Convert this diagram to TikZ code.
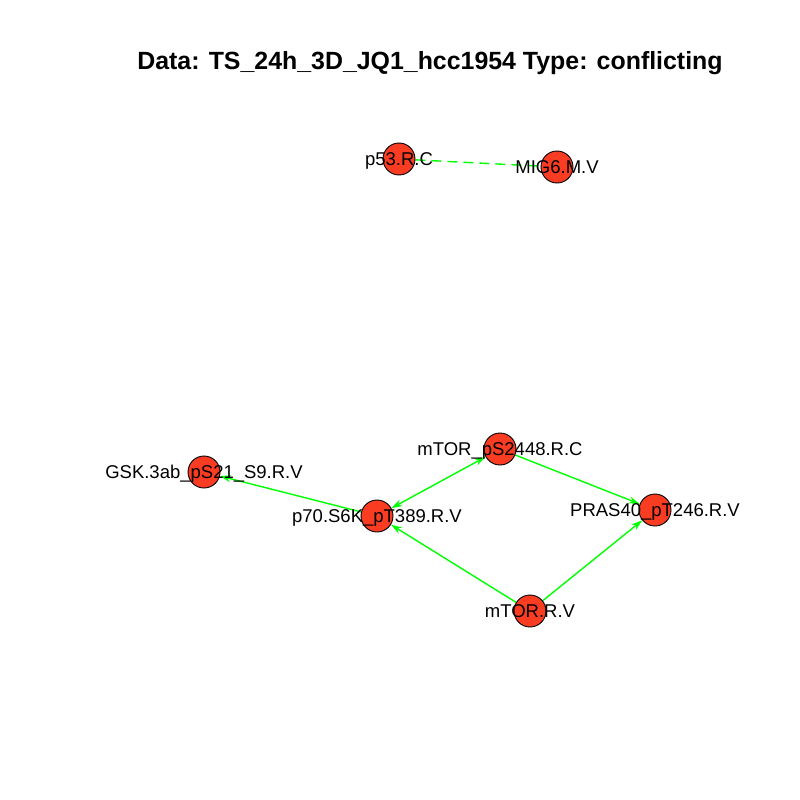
\documentclass[tikz,border=0pt]{standalone}
\usepackage{fontspec}
\setmainfont{Liberation Sans}
\usetikzlibrary{arrows.meta}
\definecolor{nodered}{RGB}{250,60,35}
\definecolor{edgegreen}{RGB}{0,255,0}
\pgfdeclarelayer{bg}
\pgfdeclarelayer{edges}
\pgfsetlayers{bg,edges,main}
\tikzset{
  vert/.style={circle,draw=black,line width=0.9pt,fill=nodered,minimum size=32pt,inner sep=0pt},
  lab/.style={font=\fontsize{18.5}{20}\selectfont,inner sep=0pt,anchor=base},
  edge/.style={draw=edgegreen,line width=1.4pt},
  arr/.style={edge,-{Stealth[length=11pt,width=7pt]}},
  darr/.style={edge,{Stealth[length=11pt,width=7pt]}-{Stealth[length=11pt,width=7pt]}},
  dash edge/.style={edge,dash pattern=on 10pt off 6pt},
  title/.style={font=\bfseries\fontsize{24.9}{27}\selectfont,inner sep=0pt,anchor=base}
}
\begin{document}
\begin{tikzpicture}[x=1pt,y=-1pt]
\useasboundingbox (0,0) rectangle (800,800);
\begin{pgfonlayer}{bg}
\fill[white] (0,0) rectangle (800,800);
\end{pgfonlayer}
\node[title] (t) at (430,70) {Data: TS\_24h\_3D\_JQ1\_hcc1954 Type: conflicting};
% vertices
\node[vert] (p53) at (399,159) {};
\node[vert] (mig) at (557,167) {};
\node[vert] (gsk) at (204,472) {};
\node[vert] (mps) at (500,449) {};
\node[vert] (p70) at (377,516) {};
\node[vert] (pras) at (655,510) {};
\node[vert] (mtor) at (530,611) {};
% edges
\begin{pgfonlayer}{edges}
\draw[dash edge] (p53) -- (mig);
\draw[arr] (p70) -- (gsk);
\draw[darr] (p70) -- (mps);
\draw[arr] (mps) -- (pras);
\draw[arr] (mtor) -- (p70);
\draw[arr] (mtor) -- (pras);
\end{pgfonlayer}
% labels
\node[lab] (lp53) at ([yshift=-6.7pt]p53.center) {p53.R.C};
\node[lab] (lmig) at ([yshift=-6.7pt]mig.center) {MIG6.M.V};
\node[lab] (lgsk) at ([yshift=-6.7pt]gsk.center) {GSK.3ab\_pS21\_S9.R.V};
\node[lab] (lmps) at ([yshift=-6.7pt]mps.center) {mTOR\_pS2448.R.C};
\node[lab] (lp70) at ([yshift=-6.7pt]p70.center) {p70.S6K\_pT389.R.V};
\node[lab] (lpras) at ([yshift=-6.7pt]pras.center) {PRAS40\_pT246.R.V};
\node[lab] (lmtor) at ([yshift=-6.7pt]mtor.center) {mTOR.R.V};
\end{tikzpicture}
\end{document}
